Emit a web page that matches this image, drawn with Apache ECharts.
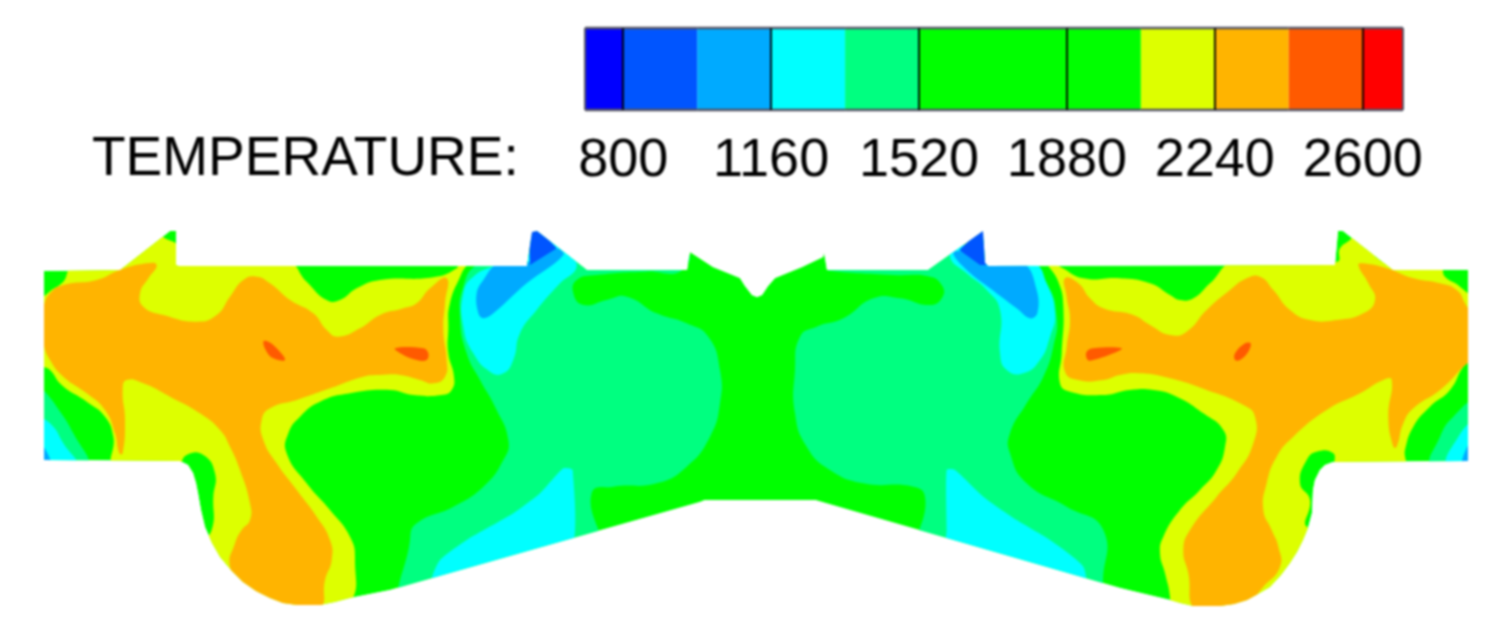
<!DOCTYPE html>
<html><head><meta charset="utf-8">
<script src="https://cdn.jsdelivr.net/npm/echarts@6/dist/echarts.min.js"></script>
<style>html,body{margin:0;background:#fff}#c{width:1496px;height:637px;filter:blur(0.8px)}</style>
</head><body><div id="c"></div>
<script>
const axisTitle = 'TEMPERATURE:';
const tickValues = [800, 1160, 1520, 1880, 2240, 2600];
const bandEdges = [707, 800, 980, 1160, 1340, 1520, 1880, 2060, 2240, 2420, 2600, 2698];
const bandColors = ['#0000ff','#0055ff','#00aaff','#00ffff','#00ff80','#00ff00','#00ff00','#ddff00','#ffb400','#ff5a00','#ff0000'];

const A = 30, B = 380, C = 750, D = 1120;
function trace(...parts) {
  const out = [];
  for (let i = 0; i < parts.length; i += 2)
    for (const p of parts[i + 1]) out.push([parts[i] + p[0] / 3, 220 + p[1] / 3]);
  return out;
}
const domain = [[44,271],[120,270],[170,231],[176,231],[176,265],[179,266],[527,266],[532,232],[537,231],[587,270],[687,270],[690,252],[713,267],[740,278],[745,286],[752,295],[757,297],[762,295],[768,286],[775,278],[802,267],[823,257],[824,252],[827,270],[928,270],[983,231],[985,263],[988,266],[1335,265],[1338,231],[1343,231],[1393,270],[1468,270],[1468,461],[1333,462],[1325,465],[1320,470],[1315,480],[1313,490],[1312,513],[1308,528],[1303,540],[1297,552],[1290,563],[1281,575],[1270,587],[1258,594],[1247,600],[1234,604],[1220,606],[1193,606],[1180,603],[1170,600],[1120,588],[822,502],[815,500],[705,500],[700,502],[390,590],[350,598],[335,602],[320,605],[297,605],[283,603],[270,598],[256,591],[243,582],[231,570],[220,557],[212,543],[205,527],[201,510],[198,493],[196,483],[193,473],[188,465],[180,461],[44,460]];

const yellowLeft = trace(A,[[125,145],[100,185],[55,218],[30,250],[30,430],[60,450],[95,495],[170,545],[225,590],[250,650],[255,740],[440,740],[470,705],[520,705],[555,760],[550,830],[545,930],[500,1000],[600,1120],[800,1190],[870,1190],[960,1150],[975,1020],[960,950],[900,870],[830,790],[770,700],[775,640],[810,590],[870,545],[960,520],[1080,510]],
  B,[[100,525],[185,525],[215,510],[222,470],[205,400],[205,330],[210,250],[245,160],[262,125],[235,125],[230,145],[160,172],[0,180]],
  A,[[980,205],[930,240],[890,240],[830,185],[770,125],[445,125],[445,80],[405,55],[380,45],[250,130]]);
const orangeLeft = trace(A,[[40,260],[60,220],[100,195],[200,180],[270,150],[350,130],[380,135],[355,175],[330,220],[340,260],[400,285],[500,305],[560,285],[600,230],[640,180],[680,170],[720,190],[780,240],[850,280],[890,330],[925,350],[990,325],[1050,285]],
  B,[[70,265],[110,250],[150,205],[200,175],[195,250],[190,330],[200,420],[195,470],[160,490],[120,480],[60,465],[0,465]],
  A,[[1000,470],[900,505],[800,540],[720,565],[695,600],[700,660],[740,730],[800,810],[860,890],[900,960],[905,1020],[885,1080],[870,1170],[800,1180],[720,1150],[640,1095],[600,1040],[615,970],[635,930],[660,900],[660,850],[630,750],[600,680],[570,630],[510,580],[420,530],[340,490],[290,480],[278,510],[285,600],[278,700],[268,700],[255,640],[225,570],[170,520],[100,470],[60,420],[40,370],[30,300]]);
const yellowRight = trace(C,[[890,125],[925,185],[940,260],[935,400],[930,490],[960,515],[1060,525],[1140,510]],
  D,[[100,510],[170,530],[250,580],[310,630],[315,680],[290,750],[240,810],[180,870],[130,950],[120,1000],[135,1060],[150,1130],[150,1190],[250,1210],[600,1120],[640,900],[560,920],[570,840],[540,790],[560,720],[590,695],[640,700],[650,740],[850,740],[855,690],[880,620],[930,560],[990,510],[1030,440],[1060,410],[1060,250],[1020,200],[975,170],[960,140],[820,140],[700,50],[690,60],[660,85],[650,125],[345,125],[270,190],[220,235],[180,240],[150,225],[90,190],[0,175]],
  C,[[1000,175],[930,140]]);
const orangeRight = trace(C,[[945,175],[985,190],[1020,235],[1060,265]],
  D,[[40,285],[90,315],[150,345],[200,335],[260,270],[330,210],[380,175],[420,170],[460,210],[510,270],[570,300],[650,300],[730,280],[765,240],[745,190],[715,135],[730,130],[800,145],[880,175],[960,190],[1010,210],[1035,250],[1060,300],[1060,400],[1020,450],[960,510],[880,565],[850,610],[830,680],[820,680],[805,590],[815,480],[790,480],[720,520],[620,570],[520,650],[470,710],[440,790],[430,870],[455,930],[475,980],[480,1040],[430,1100],[380,1150],[300,1170],[225,1170],[205,1060],[190,990],[210,930],[290,830],[350,760],[400,670],[405,590],[370,555],[260,510],[150,475],[60,460],[0,465]],
  C,[[1060,480],[985,480],[945,455],[950,380],[960,300],[950,230]]);
const hotSpotA = trace(A,[[700,365],[715,365],[740,385],[765,420],[730,415],[710,395]]);
const hotSpotB = trace(B,[[45,385],[130,385],[145,400],[140,420],[110,420],[70,405]]);
const hotSpotC = trace(C,[[1010,395],[1030,385],[1115,385],[1090,400],[1020,422],[1010,415]]);
const hotSpotD = trace(D,[[345,420],[345,400],[375,370],[392,370],[385,395],[360,420]]);

const coolCoreLeft = trace(B,[[290,135],[250,200],[240,290],[260,400],[300,480],[345,560],[385,660],[370,720],[310,800],[220,860],[110,910],[90,960],[85,1150],[640,1010],[635,820],[700,800],[830,790],[920,740],[990,650],[1020,550],[1020,450],[985,350],[920,310],[830,280],[740,230],[680,240],[610,255],[580,220],[590,180],[650,165],[800,155],[900,155],[920,100],[620,100],[500,30],[400,100]]);
const coolCoreRight = trace(C,[[235,145],[235,152],[430,165],[540,170],[575,195],[578,230],[540,255],[450,235],[370,235],[280,295],[200,320],[150,350],[135,450],[135,580],[170,680],[240,750],[340,790],[490,800],[525,830],[525,1010],[1075,1150],[1060,1100],[1060,930],[950,860],[830,790],[780,700],[780,640],[830,550],[880,470],[910,380],[920,290],[890,190],[830,130],[700,60],[600,100]]);
const cyanTopLeft = trace(B,[[280,170],[250,220],[250,320],[280,400],[330,455],[370,460],[400,420],[420,340],[470,270],[540,190],[590,140],[560,100],[520,60],[450,100],[350,135]]);
const cyanTopRight = trace(C,[[600,110],[650,160],[710,210],[750,270],[750,400],[770,450],[820,460],[870,420],[900,350],[915,280],[890,190],[850,130],[700,120],[625,70]]);
const cyanLowLeft = trace(B,[[550,745],[578,750],[568,1000],[155,1120],[155,1075],[180,1020],[260,960],[400,880],[480,820]]);
const cyanLowRight = trace(C,[[590,750],[615,750],[700,830],[800,900],[900,960],[1000,1040],[1005,1120],[590,1000],[590,930]]);
const skyTopLeft = trace(B,[[355,130],[440,125],[455,125],[525,85],[550,105],[440,190],[340,280],[310,295],[295,280],[290,220],[310,180]]);
const skyTopRight = trace(C,[[610,100],[640,95],[700,125],[820,130],[860,210],[862,280],[840,295],[800,265],[720,205],[650,150]]);
const blueTipLeft = trace(B,[[445,25],[475,25],[530,85],[450,135]]);
const blueTipRight = trace(C,[[628,90],[695,25],[712,25],[712,135],[690,135]]);

const cornerTealLeft = trace(A,[[25,500],[40,510],[80,560],[130,640],[170,740],[25,740]]);
const cornerCyanLeft = trace(A,[[25,600],[60,610],[100,670],[140,740],[25,740]]);
const cornerSkyLeft = trace(A,[[25,670],[50,695],[60,740],[25,740]]);
const cornerTealRight = trace(D,[[1060,550],[1000,590],[960,650],[935,740],[1060,740]]);
const cornerCyanRight = trace(D,[[1060,610],[1015,650],[980,740],[1060,740]]);
const cornerSkyRight = trace(D,[[1060,660],[1033,700],[1030,740],[1060,740]]);

const contours = [
  [1700, domain, 0],
  [1430, cornerTealLeft, .5],[1250, cornerCyanLeft, .5],[1070, cornerSkyLeft, .5],
  [1430, cornerTealRight, .5],[1250, cornerCyanRight, .5],[1070, cornerSkyRight, .5],
  [1430, coolCoreLeft, .5],[1430, coolCoreRight, .5],
  [1250, cyanTopLeft, .5],[1250, cyanTopRight, .5],[1250, cyanLowLeft, .2],[1250, cyanLowRight, .2],
  [1070, skyTopLeft, .4],[1070, skyTopRight, .4],
  [890, blueTipLeft, 0],[890, blueTipRight, 0],
  [2150, yellowLeft, .5],[2150, yellowRight, .5],
  [2330, orangeLeft, .5],[2330, orangeRight, .5],
  [2510, hotSpotA, .4],[2510, hotSpotB, .4],[2510, hotSpotC, .4],[2510, hotSpotD, .4]
];
function colorOf(v){ for(let i=0;i<bandColors.length;i++) if(v<bandEdges[i+1]) return bandColors[i]; return bandColors[bandColors.length-1]; }

const chart = echarts.init(document.getElementById('c'));
chart.setOption({
  animation:false,
  backgroundColor:'#fff',
  title:{text:axisTitle,left:87,top:127,textStyle:{fontFamily:'Liberation Sans',fontSize:55,fontWeight:'normal',color:'#000'}},
  grid:[
    {left:0,top:0,width:1496,height:637,show:false},
    {left:585,top:28,width:818,height:82,show:false}
  ],
  xAxis:[
    {gridIndex:0,type:'value',min:0,max:1496,show:false},
    {gridIndex:1,type:'value',min:bandEdges[0],max:bandEdges[bandEdges.length-1],z:10,
      axisLine:{show:false},splitLine:{show:false},
      axisTick:{show:true,inside:true,length:82,customValues:tickValues,lineStyle:{color:'#000',width:1.8}},
      axisLabel:{show:true,customValues:tickValues,margin:24,fontFamily:'Liberation Sans',fontSize:54,color:'#000',hideOverlap:false,formatter:v=>String(v)}}
  ],
  yAxis:[
    {gridIndex:0,type:'value',min:0,max:637,inverse:true,show:false},
    {gridIndex:1,type:'value',min:0,max:1,show:false}
  ],
  series:[
    {type:'custom',xAxisIndex:0,yAxisIndex:0,silent:true,clip:false,
      data:contours.map((c,i)=>[i]),
      renderItem(params,api){
        const c=contours[params.dataIndex];
        const clipPts=domain.map(p=>api.coord(p));
        return {type:'polygon',
          shape:{points:c[1].map(p=>api.coord(p)),smooth:c[2]},
          style:{fill:colorOf(c[0]),stroke:null},
          clipPath:{type:'polygon',shape:{points:clipPts}}};
      }},
    {type:'custom',xAxisIndex:1,yAxisIndex:1,silent:true,
      data:bandColors.map((c,i)=>[bandEdges[i],bandEdges[i+1]]),
      renderItem(params,api){
        const a=api.coord([api.value(0),1]), b=api.coord([api.value(1),0]);
        const last=params.dataIndex===bandColors.length-1;
        return {type:'group',children:[
          {type:'rect',shape:{x:a[0],y:a[1],width:b[0]-a[0],height:b[1]-a[1]},
            style:{fill:bandColors[params.dataIndex],stroke:null}},
          {type:'line',shape:{x1:a[0],y1:a[1],x2:b[0],y2:a[1]},style:{stroke:'#555566',lineWidth:2.5}},
          {type:'line',shape:{x1:a[0],y1:b[1],x2:b[0],y2:b[1]},style:{stroke:'#555566',lineWidth:2.5}},
          {type:'line',shape:{x1:last?b[0]:a[0],y1:a[1],x2:last?b[0]:a[0],y2:b[1]},
            style:{stroke:params.dataIndex===0||last?'#555566':'transparent',lineWidth:2}}
        ]};
      }}
  ]
});
</script></body></html>
